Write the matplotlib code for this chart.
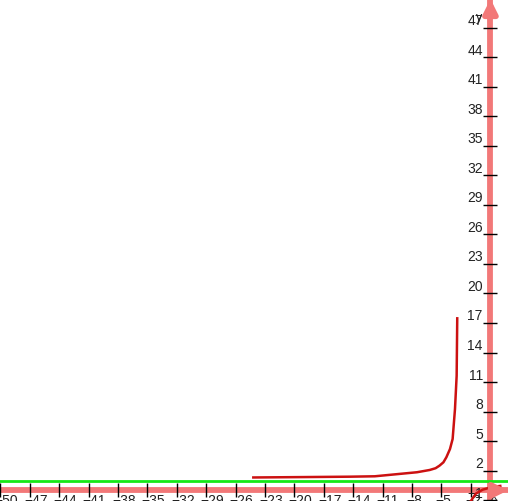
import matplotlib
matplotlib.use("Agg")
import matplotlib.pyplot as plt
from matplotlib.transforms import ScaledTranslation

# ---- data ----
left_x = [-24.2, -19.0, -14.3, -11.8, -9.7, -7.5, -6.2, -5.6, -5.2, -4.8, -4.5, -4.13, -3.86, -3.62, -3.45, -3.39]
left_y = [1.31, 1.35, 1.39, 1.43, 1.63, 1.84, 2.07, 2.25, 2.51, 2.85, 3.36, 4.20, 5.22, 8.26, 11.64, 17.47]
right_x = [-2.0, -1.5, -0.8, 0.2, 1.0]
right_y = [-1.08, -0.34, 0.07, 0.35, 0.45]
hline_y = 1
xticks = list(range(-50, 0, 3))
yticks = list(range(-1, 48, 3))
x_range = (-50.05, 1.79)
y_range = (-1.08, 49.9)

AXIS = '#f27878'
CURVE = '#cc1111'
GREEN = '#16e816'

plt.rcParams['font.family'] = ['Liberation Sans', 'DejaVu Sans']

fig = plt.figure(figsize=(5.08, 5.02), dpi=100)
ax = fig.add_axes([0, 0, 1, 1])
ax.set_xlim(*x_range)
ax.set_ylim(*y_range)
ax.set_facecolor('white')

for s in ['top', 'right']:
    ax.spines[s].set_visible(False)
for s in ['left', 'bottom']:
    ax.spines[s].set_position(('data', 0))
    ax.spines[s].set_color(AXIS)
    ax.spines[s].set_linewidth(4.2)
    ax.spines[s].set_zorder(1)

ax.axhline(hline_y, color=GREEN, lw=2, zorder=2)
ax.plot(left_x, left_y, color=CURVE, lw=1.8, zorder=3, solid_joinstyle='round')
ax.plot(right_x, right_y, color=CURVE, lw=1.8, zorder=3, solid_joinstyle='round')

ax.set_xticks(xticks)
ax.set_xticklabels([str(v).replace('-', '\u2212') for v in xticks])
ax.set_yticks(yticks)
ax.set_yticklabels([str(v).replace('-', '\u2212') for v in yticks])
ax.tick_params(axis='both', direction='inout', length=10, width=1, color='black',
               labelsize=10, labelcolor='#222222')
ax.tick_params(axis='y', pad=0.5)
ax.tick_params(axis='x', pad=-3)

for lab in ax.get_yticklabels():
    lab.set_verticalalignment('bottom')
    lab.set_transform(lab.get_transform() + ScaledTranslation(0, 0.5 / 100, fig.dpi_scale_trans))
for lab in ax.get_xticklabels():
    lab.set_horizontalalignment('left')
    lab.set_transform(lab.get_transform() + ScaledTranslation(-6 / 100, 0, fig.dpi_scale_trans))

# arrow heads
ax.annotate('', xy=(0, y_range[1]), xytext=(0, y_range[1] - 1.5),
            arrowprops=dict(arrowstyle='-|>', color=AXIS, lw=4, mutation_scale=20,
                            shrinkA=0, shrinkB=0), zorder=4, annotation_clip=False)
ax.annotate('', xy=(x_range[1], 0), xytext=(x_range[1] - 1.5, 0),
            arrowprops=dict(arrowstyle='-|>', color=AXIS, lw=4, mutation_scale=20,
                            shrinkA=0, shrinkB=0), zorder=4, annotation_clip=False)

ax.text(479 / 508, 1 - 18 / 502, 'y', transform=ax.transAxes, fontsize=9,
        ha='center', va='center', color='#222222')
ax.text(494 / 508, 1 - 497 / 502, 'x', transform=ax.transAxes, fontsize=9,
        ha='center', va='center', color='#222222')

fig.savefig('out.png', dpi=100)
